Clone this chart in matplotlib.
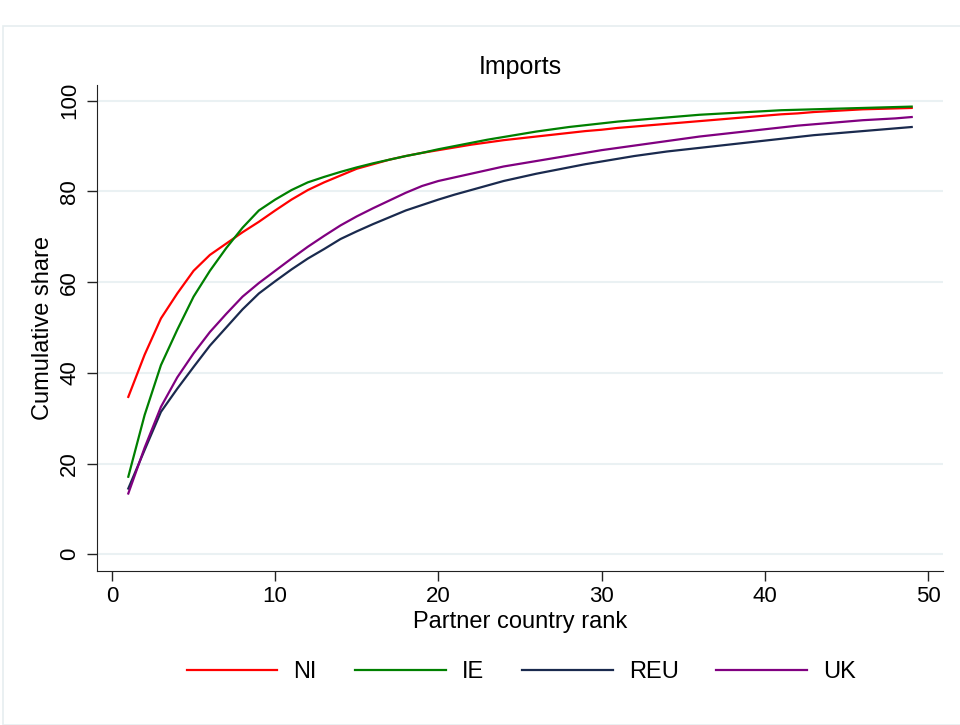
import numpy as np
import matplotlib
matplotlib.use('Agg')
import matplotlib.pyplot as plt
from matplotlib.patches import Rectangle

plt.rcParams['font.family'] = ['Liberation Sans', 'DejaVu Sans']

rank = np.arange(1, 50)

ni = [34.7, 44.0, 52.0, 57.5, 62.5, 66.0, 68.5, 71.0, 73.3, 75.8,
      78.2, 80.3, 82.0, 83.5, 85.0, 86.0, 87.0, 87.8, 88.5, 89.1,
      89.7, 90.3, 90.8, 91.3, 91.7, 92.1, 92.5, 92.9, 93.3, 93.6,
      94.0, 94.3, 94.6, 94.9, 95.2, 95.5, 95.8, 96.1, 96.4, 96.7,
      97.0, 97.2, 97.5, 97.7, 97.9, 98.1, 98.2, 98.3, 98.4]
ie = [17.1, 30.7, 41.7, 49.5, 56.8, 62.5, 67.5, 72.0, 75.8, 78.2,
      80.3, 82.0, 83.2, 84.3, 85.3, 86.2, 87.0, 87.8, 88.5, 89.3,
      90.0, 90.7, 91.4, 92.0, 92.6, 93.2, 93.7, 94.2, 94.6, 95.0,
      95.4, 95.7, 96.0, 96.3, 96.6, 96.9, 97.1, 97.3, 97.5, 97.7,
      97.9, 98.0, 98.1, 98.2, 98.3, 98.4, 98.5, 98.6, 98.7]
reu = [14.5, 23.0, 31.4, 36.5, 41.3, 46.0, 50.0, 54.0, 57.5, 60.2,
       62.8, 65.2, 67.3, 69.5, 71.2, 72.8, 74.3, 75.8, 77.0, 78.2,
       79.3, 80.3, 81.3, 82.3, 83.1, 83.9, 84.6, 85.3, 86.0, 86.6,
       87.2, 87.8, 88.3, 88.8, 89.2, 89.6, 90.0, 90.4, 90.8, 91.2,
       91.6, 92.0, 92.4, 92.7, 93.0, 93.3, 93.6, 93.9, 94.2]
uk = [13.4, 23.5, 32.5, 39.0, 44.3, 49.0, 53.0, 56.8, 59.8, 62.5,
      65.2, 67.8, 70.2, 72.5, 74.5, 76.3, 78.0, 79.7, 81.2, 82.3,
      83.1, 83.9, 84.7, 85.5, 86.1, 86.7, 87.3, 87.9, 88.5, 89.1,
      89.6, 90.1, 90.6, 91.1, 91.6, 92.1, 92.5, 92.9, 93.3, 93.7,
      94.1, 94.5, 94.8, 95.1, 95.4, 95.7, 95.9, 96.1, 96.4]

series = [('NI', ni, '#ff0000'), ('IE', ie, '#008000'),
          ('REU', reu, '#1a2a4e'), ('UK', uk, '#800080')]

fig = plt.figure(figsize=(9.6, 7.25), dpi=100)
# stata-like graph region frame
fig.patches.append(Rectangle((3 / 960, 0), 1.0, (725 - 26) / 725, transform=fig.transFigure,
                             fill=False, edgecolor='#e6eef0', lw=1.2))
ax = fig.add_axes([0.101, 0.212, 0.881, 0.671])

for name, vals, col in series:
    ax.plot(rank, vals, color=col, lw=1.6, label=name)

ax.set_xlim(-0.92, 50.9)
ax.set_ylim(-3.75, 103.5)
ax.set_xticks(range(0, 51, 10))
ax.set_yticks(range(0, 101, 20))
ax.grid(axis='y', color='#eaf1f3', lw=1.5)
ax.set_axisbelow(True)
for s in ('top', 'right'):
    ax.spines[s].set_visible(False)
for s in ('left', 'bottom'):
    ax.spines[s].set_color('#222222')
ax.tick_params(direction='out', length=7, width=1, color='#222222', labelsize=16)
ax.tick_params(axis='y', pad=5)
plt.setp(ax.get_yticklabels(), rotation=90, va='center')

ax.set_title('Imports', fontsize=18, pad=8)
ax.set_xlabel('Partner country rank', fontsize=17, labelpad=3)
ax.set_ylabel('Cumulative share', fontsize=17, labelpad=4)

fig.legend(loc='center', bbox_to_anchor=(0.543, 0.073), ncol=4, frameon=False,
           fontsize=17, handlelength=3.85, columnspacing=1.6, handletextpad=0.68)

fig.savefig('out.png', dpi=100, facecolor='white')
